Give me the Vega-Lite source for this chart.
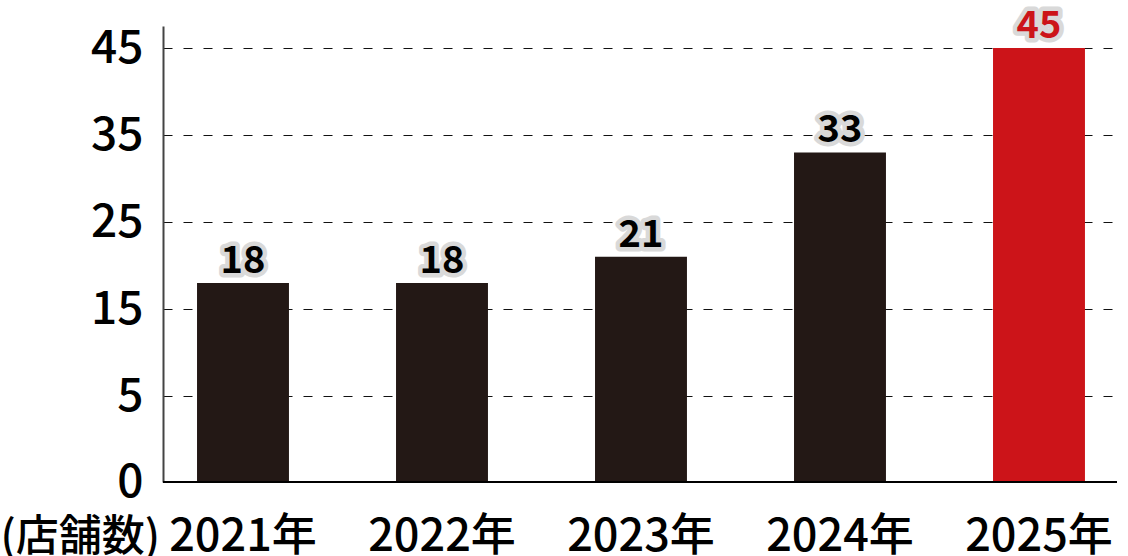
{
  "$schema": "https://vega.github.io/schema/vega-lite/v6.json",
  "autosize": {"type": "none"},
  "padding": {"left": 163, "top": 13, "right": 11, "bottom": 74},
  "width": 954,
  "height": 469,
  "background": "white",
  "config": {
    "view": {"stroke": null},
    "font": "Noto Sans CJK JP"
  },
  "data": {
    "values": [
      {"year": "2021年", "stores": 18},
      {"year": "2022年", "stores": 18},
      {"year": "2023年", "stores": 21},
      {"year": "2024年", "stores": 33},
      {"year": "2025年", "stores": 45}
    ]
  },
  "encoding": {
    "x": {
      "field": "year",
      "type": "nominal",
      "sort": null,
      "scale": {"type": "band", "paddingInner": 0.538, "paddingOuter": 0.166, "align": 0.515},
      "axis": {
        "title": null,
        "domain": false,
        "ticks": false,
        "labelAngle": 0,
        "labelFont": "Noto Sans CJK JP",
        "labelFontSize": 45,
        "labelFontWeight": 500,
        "labelColor": "#000000",
        "labelBaseline": "alphabetic",
        "labelPadding": 68,
        "labelDx": 8
      }
    },
    "y": {
      "field": "stores",
      "type": "quantitative",
      "scale": {
        "domain": [0, 5, 15, 25, 35, 45, 47.5],
        "range": [469, 383, 296, 209, 122, 35, 13],
        "nice": false,
        "zero": false
      },
      "axis": {
        "title": "(店舗数)",
        "titleFont": "Noto Sans CJK JP",
        "titleFontSize": 43,
        "titleFontWeight": 500,
        "titleColor": "#000000",
        "titleAngle": 0,
        "titleAlign": "left",
        "titleBaseline": "alphabetic",
        "titleX": -163,
        "titleY": 537,
        "values": [0, 5, 15, 25, 35, 45],
        "labelFont": "Noto Sans CJK JP",
        "labelFontSize": 46,
        "labelFontWeight": 500,
        "labelColor": "#000000",
        "labelPadding": 20,
        "labelBaseline": "middle",
        "ticks": false,
        "domainColor": "#444444",
        "domainWidth": 2,
        "grid": true,
        "gridColor": "#111111",
        "gridDash": [9, 11],
        "gridWidth": 1.2
      }
    }
  },
  "layer": [
    {
      "mark": {"type": "bar"},
      "encoding": {
        "color": {
          "condition": {"test": "datum.year === '2025年'", "value": "#CC1419"},
          "value": "#231815"
        }
      }
    },
    {
      "mark": {"type": "rule", "color": "#000000", "strokeWidth": 2},
      "encoding": {"x": null, "y": {"datum": 0}}
    },
    {
      "mark": {
        "type": "text",
        "baseline": "alphabetic",
        "dy": -10,
        "fontSize": 38,
        "fontWeight": "bold",
        "font": "Noto Sans CJK JP",
        "fill": "#d9d9d9",
        "stroke": "#d9d9d9",
        "strokeWidth": 9,
        "strokeJoin": "round"
      },
      "encoding": {"text": {"field": "stores", "type": "quantitative"}}
    },
    {
      "mark": {
        "type": "text",
        "baseline": "alphabetic",
        "dy": -10,
        "fontSize": 38,
        "fontWeight": "bold",
        "font": "Noto Sans CJK JP"
      },
      "encoding": {
        "text": {"field": "stores", "type": "quantitative"},
        "color": {
          "condition": {"test": "datum.year === '2025年'", "value": "#CC1419"},
          "value": "#000000"
        }
      }
    }
  ]
}
